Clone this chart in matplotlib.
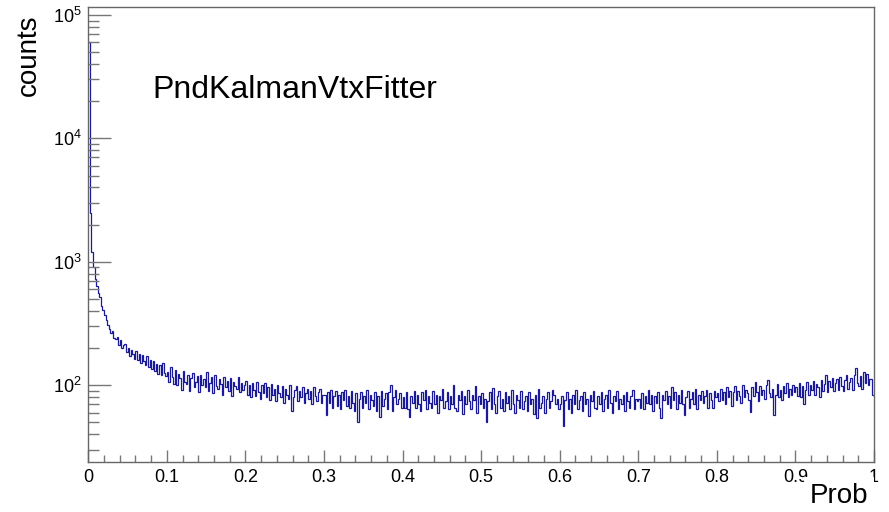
import numpy as np
import matplotlib
matplotlib.use("Agg")
import matplotlib.pyplot as plt
from matplotlib.ticker import LogLocator, MultipleLocator, FixedLocator

plt.rcParams['font.family'] = ['Liberation Sans', 'DejaVu Sans']
plt.rcParams['mathtext.default'] = 'regular'

# histogram of fit probability, 500 bins from 0 to 1 (counts)
counts_00 = [60000, 2500, 1200, 900, 720, 640, 560, 520, 440, 405,
             370, 336, 310, 285, 263, 275, 240, 236, 244, 210,
             232, 200, 210, 214, 186, 200, 172, 192, 180, 164,
             190, 160, 180, 152, 176, 156, 146, 172, 140, 160,
             136, 156, 130, 150, 124, 146, 122, 152, 126, 118]
counts_01 = [128, 106, 140, 116, 102, 134, 100, 124, 114, 92,
             130, 106, 102, 122, 90, 114, 126, 96, 106, 118,
             88, 122, 100, 112, 96, 128, 90, 104, 116, 86,
             120, 98, 94, 112, 102, 84, 116, 96, 108, 90,
             114, 82, 106, 98, 94, 116, 88, 104, 92, 100]
counts_02 = [108, 84, 100, 80, 104, 92, 82, 106, 88, 78,
             100, 86, 104, 80, 96, 76, 102, 84, 94, 74,
             100, 86, 80, 98, 72, 94, 84, 78, 100, 62,
             80, 92, 98, 74, 90, 80, 96, 72, 86, 94,
             78, 90, 70, 96, 82, 74, 88, 94, 72, 84]
counts_03 = [84, 57, 88, 72, 92, 66, 82, 90, 68, 84,
             64, 88, 76, 92, 68, 82, 66, 90, 72, 62,
             86, 50, 78, 88, 66, 82, 72, 92, 64, 84,
             76, 68, 88, 62, 82, 55, 90, 68, 78, 86,
             64, 88, 100, 62, 80, 92, 70, 78, 86, 66]
counts_04 = [80, 66, 88, 64, 55, 82, 72, 90, 66, 84,
             70, 62, 88, 76, 92, 64, 82, 72, 66, 90,
             70, 84, 60, 82, 76, 94, 66, 74, 88, 64,
             82, 70, 100, 66, 62, 84, 76, 90, 58, 82,
             70, 92, 74, 64, 84, 76, 98, 60, 82, 70]
counts_05 = [86, 66, 78, 50, 74, 88, 64, 95, 70, 60,
             82, 90, 66, 78, 62, 88, 72, 82, 64, 92,
             70, 60, 84, 76, 66, 90, 64, 74, 82, 62,
             88, 70, 78, 58, 84, 54, 94, 66, 72, 82,
             60, 78, 88, 66, 74, 92, 84, 70, 78, 64]
counts_06 = [70, 82, 47, 76, 88, 64, 78, 60, 84, 70,
             92, 64, 76, 82, 62, 88, 70, 78, 56, 84,
             74, 90, 66, 64, 82, 70, 88, 62, 78, 84,
             66, 91, 72, 60, 82, 74, 90, 64, 78, 70,
             84, 62, 88, 74, 66, 82, 92, 64, 78, 74]
counts_07 = [78, 66, 86, 64, 82, 72, 92, 70, 84, 62,
             82, 72, 88, 66, 54, 84, 76, 90, 70, 82,
             66, 97, 76, 88, 64, 84, 72, 92, 70, 57,
             80, 90, 66, 78, 88, 70, 94, 64, 84, 76,
             90, 72, 82, 92, 66, 86, 76, 65, 90, 80]
counts_08 = [86, 74, 94, 76, 88, 70, 96, 80, 90, 68,
             88, 98, 76, 90, 82, 72, 100, 80, 92, 86,
             76, 61, 96, 82, 106, 88, 74, 98, 84, 92,
             78, 100, 110, 86, 80, 94, 57, 84, 102, 80,
             92, 76, 98, 86, 104, 80, 94, 84, 100, 88]
counts_09 = [96, 82, 104, 80, 98, 71, 92, 106, 84, 100,
             92, 108, 84, 102, 96, 80, 110, 90, 102, 120,
             88, 108, 96, 114, 90, 104, 112, 92, 116, 98,
             90, 110, 120, 94, 106, 114, 92, 122, 137, 104,
             98, 118, 94, 128, 104, 124, 100, 112, 113, 83]

counts = (counts_00 + counts_01 + counts_02 + counts_03 + counts_04 +
          counts_05 + counts_06 + counts_07 + counts_08 + counts_09)
edges = np.linspace(0, 1, len(counts) + 1)

x_ticks = [0, 0.1, 0.2, 0.3, 0.4, 0.5, 0.6, 0.7, 0.8, 0.9, 1]
x_labels = ["0", "0.1", "0.2", "0.3", "0.4", "0.5", "0.6", "0.7", "0.8", "0.9", "1"]

fig = plt.figure(figsize=(8.89, 5.12), dpi=100)
ax = fig.add_axes([0.0993, 0.0977, 0.8838, 0.8883])

ax.stairs(counts, edges, baseline=None, color='#1a1a99', lw=0.9)

ax.set_yscale('log')
ax.set_xlim(0, 1)
ax.set_ylim(23.9, 1.155e5)

ax.xaxis.set_major_locator(FixedLocator(x_ticks))
ax.set_xticklabels(x_labels)
ax.xaxis.set_minor_locator(MultipleLocator(0.02))
ax.yaxis.set_major_locator(LogLocator(base=10))
ax.yaxis.set_minor_locator(LogLocator(base=10, subs=np.arange(2, 10)))
ax.yaxis.set_minor_formatter(plt.NullFormatter())

ax.tick_params(axis='both', which='both', direction='in', color='#777777',
               width=1, labelsize=13, top=False, right=False)
ax.tick_params(axis='x', which='major', length=9, pad=5)
ax.tick_params(axis='x', which='minor', length=5)
ax.tick_params(axis='y', which='major', length=16.5, pad=4.5)
ax.tick_params(axis='y', which='minor', length=8)

for s in ax.spines.values():
    s.set_color('#666666')
    s.set_linewidth(1)

ax.text(0.081, 0.80, "PndKalmanVtxFitter", transform=ax.transAxes,
        fontsize=23, ha='left', va='baseline')

fig.text(0.032, 0.971, "counts", rotation=90, fontsize=20, ha='center', va='top')
# the axis title sits on a white box that hides the lower part of "0.9"
fig.text(0.9764, 0.0176, "Prob", fontsize=20, ha='right', va='baseline',
         bbox=dict(facecolor='white', edgecolor='none', pad=4))

fig.savefig("out.png", dpi=100)
